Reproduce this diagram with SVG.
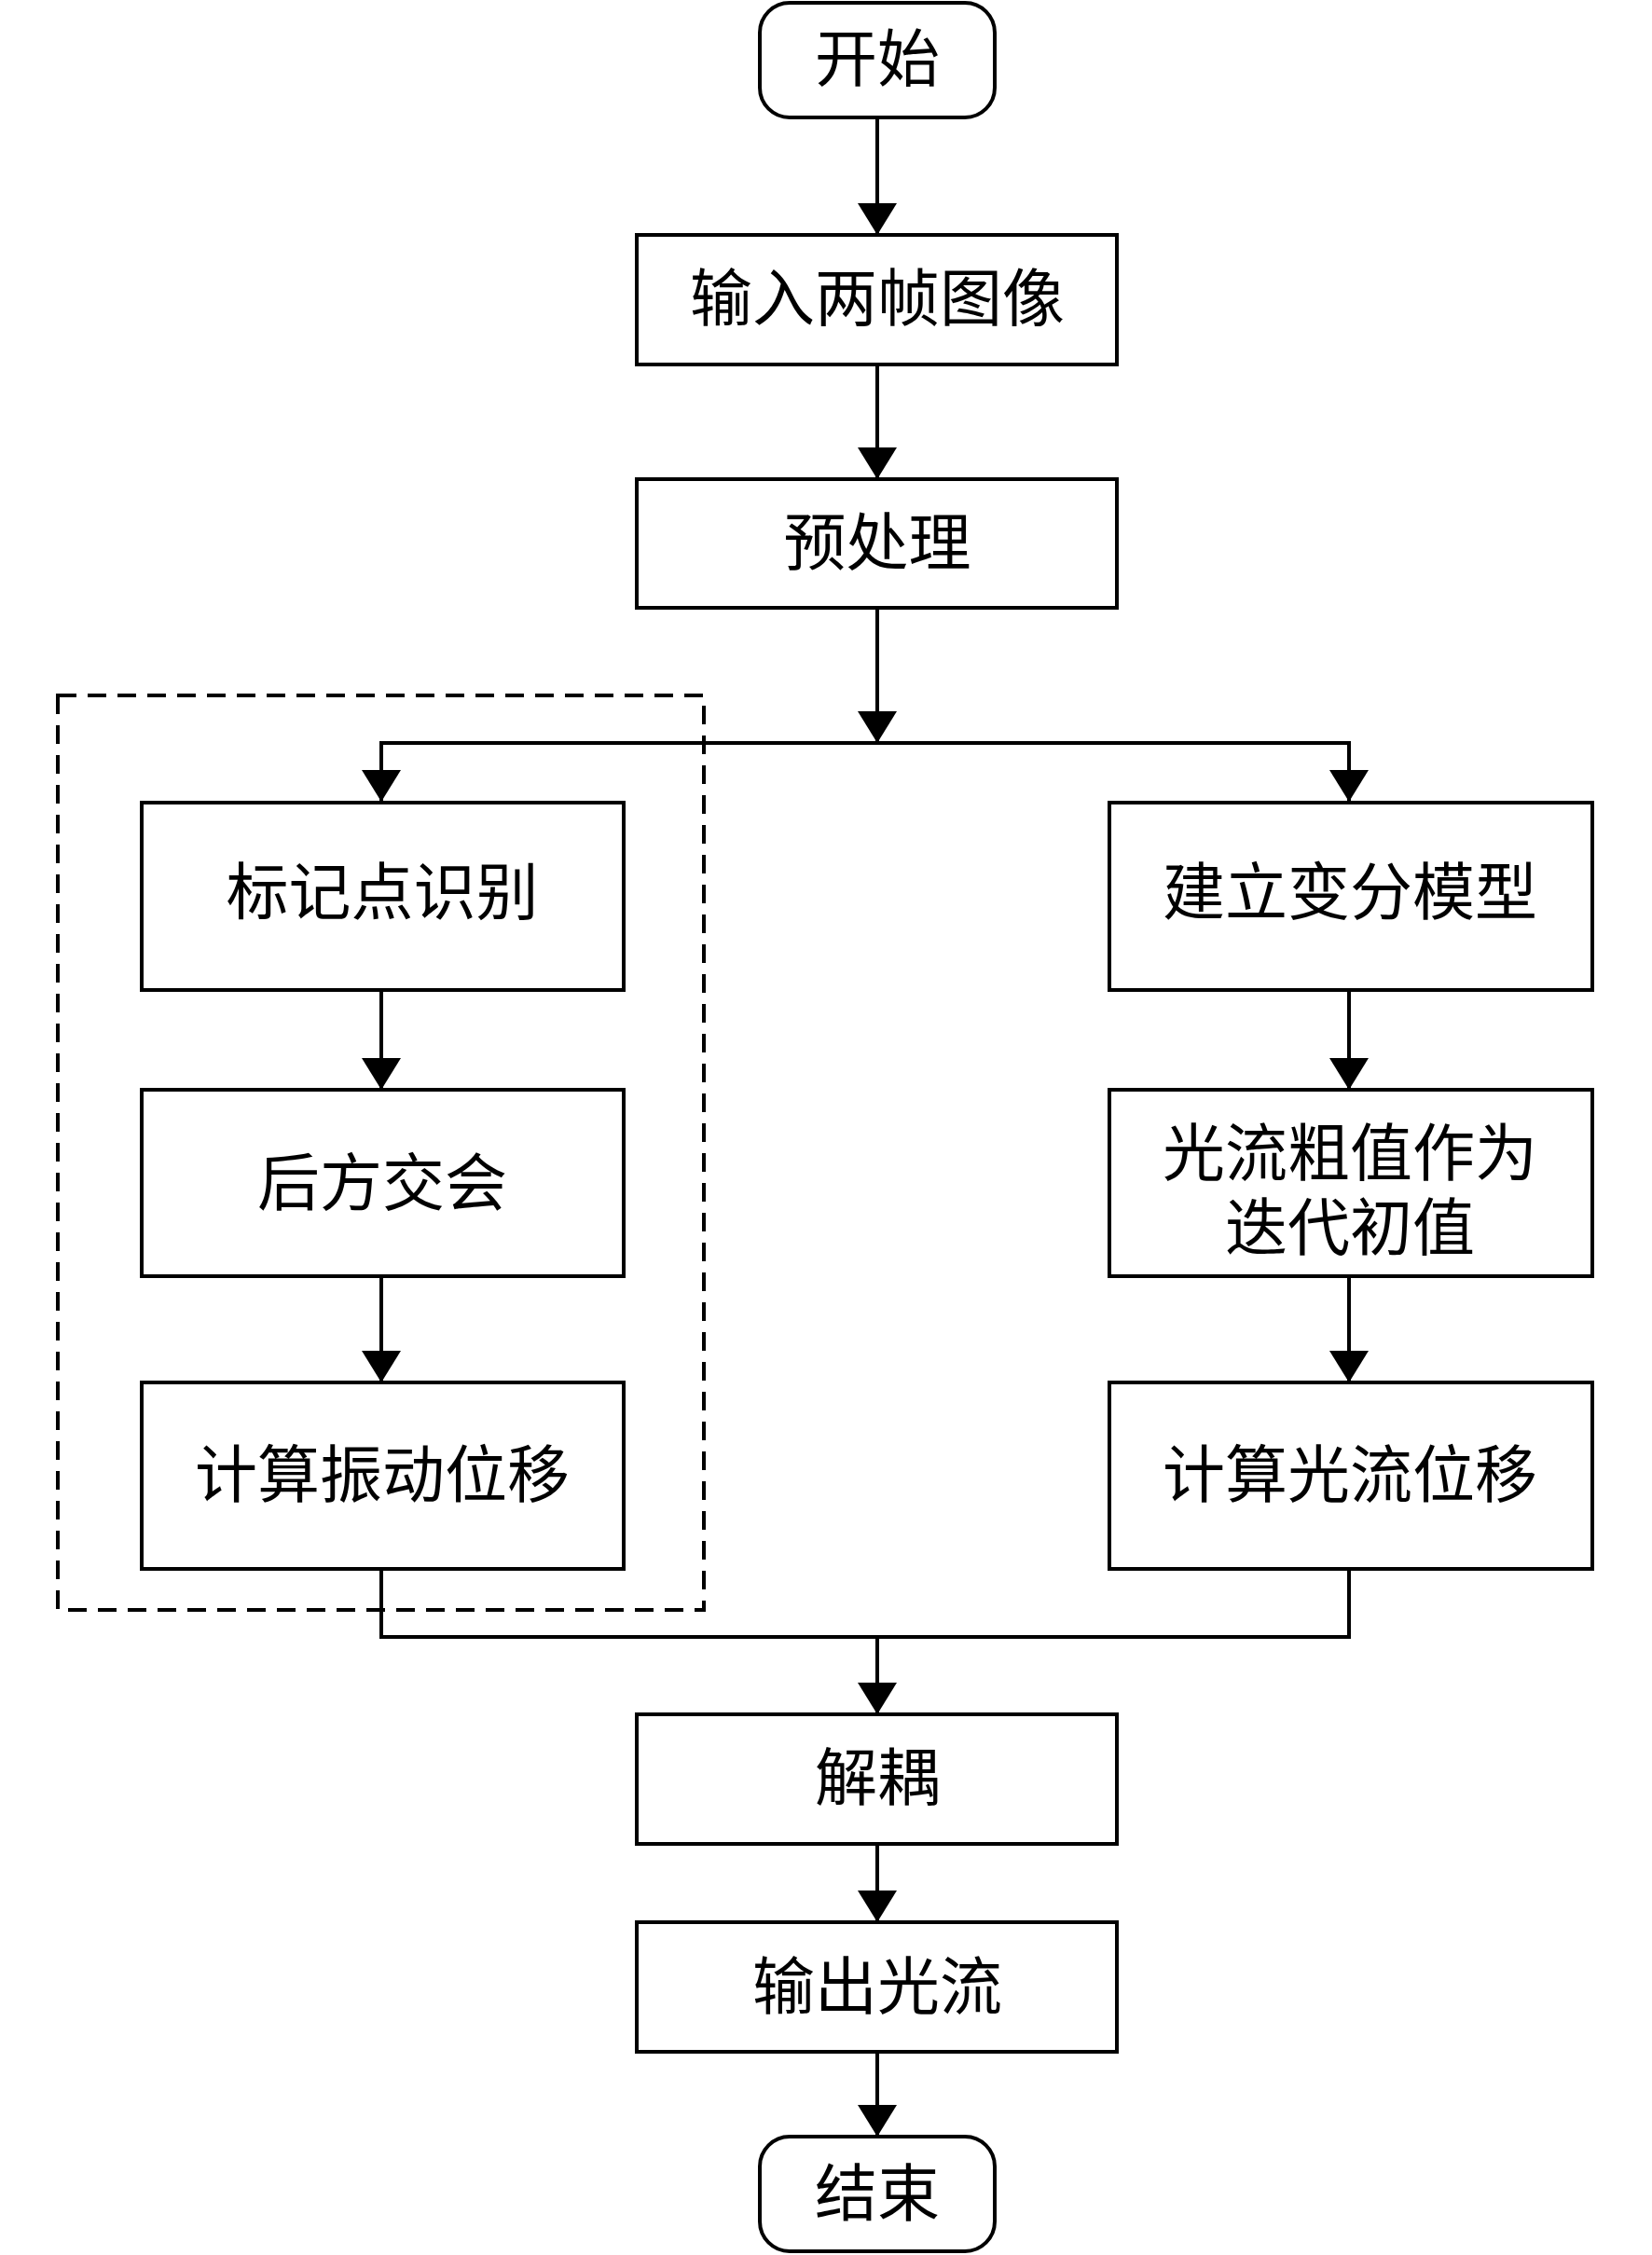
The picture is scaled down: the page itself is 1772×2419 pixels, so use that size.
<svg xmlns="http://www.w3.org/2000/svg" width="1772" height="2419" viewBox="0 0 1772 2419">
<style>
.box{fill:#fff;stroke:#000;stroke-width:4}
.t{font-family:"Liberation Serif","Noto Sans CJK SC",serif;font-size:67px;fill:#000;text-anchor:middle;dominant-baseline:central}
.c{fill:none;stroke:#000;stroke-width:4}
.d{fill:none;stroke:#000;stroke-width:4;stroke-dasharray:20 12}
</style>
<defs>
<marker id="ah" viewBox="0 0 34 42" refX="34" refY="21" markerWidth="34" markerHeight="42" markerUnits="userSpaceOnUse" orient="auto">
<path d="M0,0 L34,21 L0,42 Z" fill="#000"/>
</marker>
</defs>
<rect class="d" x="62" y="746" width="693" height="981"/>
<g id="connectors">
<line class="c" x1="941" y1="126" x2="941" y2="252" marker-end="url(#ah)"/>
<line class="c" x1="941" y1="391" x2="941" y2="514" marker-end="url(#ah)"/>
<line class="c" x1="941" y1="652" x2="941" y2="797" marker-end="url(#ah)"/>
<path class="c" d="M409,860 V797 H1447 V860"/>
<line class="c" x1="409" y1="799" x2="409" y2="860" marker-end="url(#ah)"/>
<line class="c" x1="1447" y1="799" x2="1447" y2="860" marker-end="url(#ah)"/>
<line class="c" x1="409" y1="1062" x2="409" y2="1169" marker-end="url(#ah)"/>
<line class="c" x1="409" y1="1369" x2="409" y2="1483" marker-end="url(#ah)"/>
<line class="c" x1="1447" y1="1062" x2="1447" y2="1169" marker-end="url(#ah)"/>
<line class="c" x1="1447" y1="1369" x2="1447" y2="1483" marker-end="url(#ah)"/>
<path class="c" d="M409,1683 V1756 H1447 V1683"/>
<line class="c" x1="941" y1="1756" x2="941" y2="1839" marker-end="url(#ah)"/>
<line class="c" x1="941" y1="1978" x2="941" y2="2062" marker-end="url(#ah)"/>
<line class="c" x1="941" y1="2201" x2="941" y2="2292" marker-end="url(#ah)"/>
</g>
<g id="start"><rect class="box" x="815" y="3" width="252" height="123" rx="32"/><text class="t" x="941" y="64">开始</text></g>
<g id="input"><rect class="box" x="683" y="252" width="515" height="139"/><text class="t" x="941" y="321">输入两帧图像</text></g>
<g id="preprocess"><rect class="box" x="683" y="514" width="515" height="138"/><text class="t" x="941" y="583">预处理</text></g>
<g id="marker"><rect class="box" x="152" y="861" width="517" height="201"/><text class="t" x="410" y="958">标记点识别</text></g>
<g id="resection"><rect class="box" x="152" y="1169" width="517" height="200"/><text class="t" x="410" y="1270">后方交会</text></g>
<g id="vibdisp"><rect class="box" x="152" y="1483" width="517" height="200"/><text class="t" x="410" y="1583">计算振动位移</text></g>
<g id="varmodel"><rect class="box" x="1190" y="861" width="518" height="201"/><text class="t" x="1448" y="958">建立变分模型</text></g>
<g id="initval"><rect class="box" x="1190" y="1169" width="518" height="200"/><text class="t" x="1448" y="1238">光流粗值作为</text><text class="t" x="1448" y="1318">迭代初值</text></g>
<g id="flowdisp"><rect class="box" x="1190" y="1483" width="518" height="200"/><text class="t" x="1448" y="1583">计算光流位移</text></g>
<g id="decouple"><rect class="box" x="683" y="1839" width="515" height="139"/><text class="t" x="941" y="1908">解耦</text></g>
<g id="output"><rect class="box" x="683" y="2062" width="515" height="139"/><text class="t" x="941" y="2132">输出光流</text></g>
<g id="end"><rect class="box" x="815" y="2292" width="252" height="123" rx="32"/><text class="t" x="941" y="2354">结束</text></g>
</svg>
